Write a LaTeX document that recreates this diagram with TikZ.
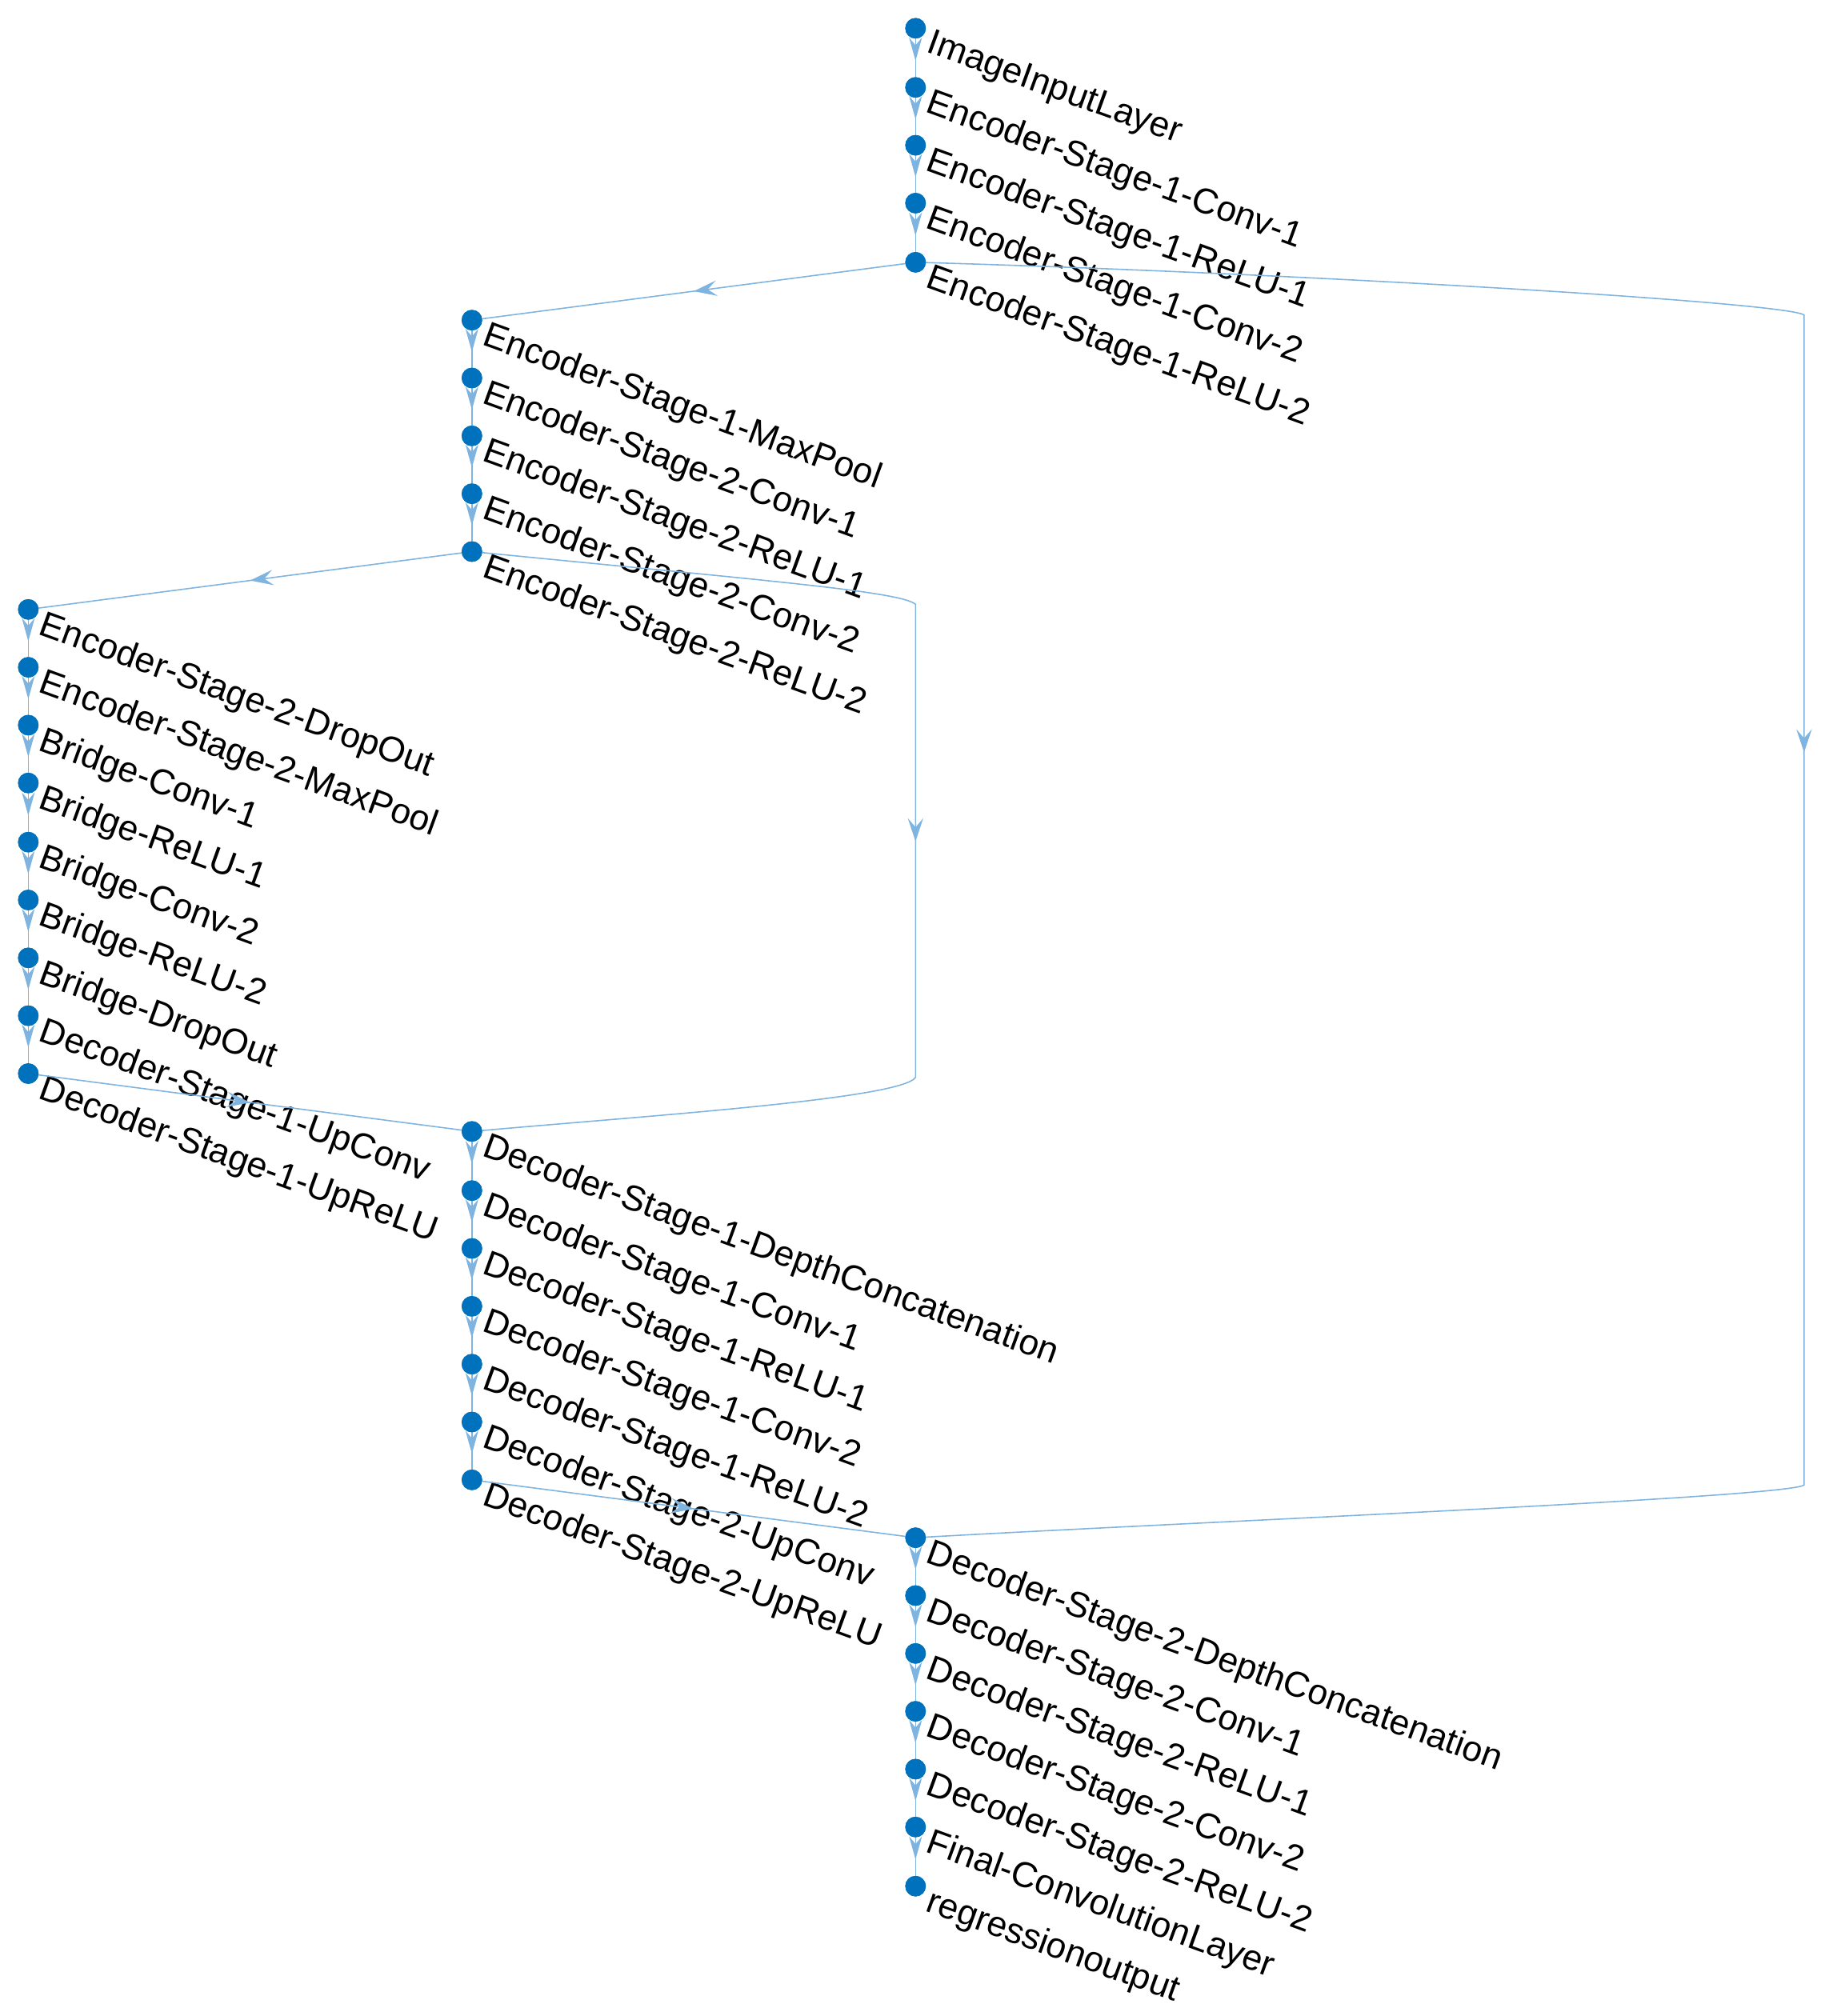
\documentclass[tikz,border=0pt]{standalone}
\usepackage{fontspec}
\setmainfont{Liberation Sans}
\usetikzlibrary{decorations.markings,arrows.meta}
\definecolor{edge}{HTML}{80B4E0}
\definecolor{dot}{HTML}{0072BD}
\begin{document}
\begin{tikzpicture}[x=0.05cm,y=-0.05cm,
  pt/.style={circle,fill=dot,inner sep=0pt,minimum size=0.8cm},
  lab/.style={anchor=north west,rotate=-20,inner sep=0pt,font=\fontsize{39.5}{42}\selectfont},
  e/.style={draw=edge,line width=1.4pt},
  mid/.style={postaction={decorate},decoration={markings,mark=at position #1 with {\arrow[edge,line width=1.3pt]{Stealth[length=0.9cm,width=0.6cm,inset=0.35cm]}}}},
  short/.style={postaction={decorate},decoration={markings,mark=at position 0.55 with {\arrow[edge]{Stealth[length=0.9cm,width=0.5cm]}}}}]
\useasboundingbox (0,0) rectangle (1422,1568);
\foreach \n/\x/\y/\t in {
a1/712/22/ImageInputLayer,a2/712/68/Encoder-Stage-1-Conv-1,a3/712/113/Encoder-Stage-1-ReLU-1,a4/712/158/Encoder-Stage-1-Conv-2,a5/712/204/Encoder-Stage-1-ReLU-2,
b1/367/249/Encoder-Stage-1-MaxPool,b2/367/294/Encoder-Stage-2-Conv-1,b3/367/339/Encoder-Stage-2-ReLU-1,b4/367/384/Encoder-Stage-2-Conv-2,b5/367/429/Encoder-Stage-2-ReLU-2,
c1/22/474/Encoder-Stage-2-DropOut,c2/22/519/Encoder-Stage-2-MaxPool,c3/22/564/Bridge-Conv-1,c4/22/609/Bridge-ReLU-1,c5/22/655/Bridge-Conv-2,c6/22/700/Bridge-ReLU-2,c7/22/745/Bridge-DropOut,c8/22/790/Decoder-Stage-1-UpConv,c9/22/835/Decoder-Stage-1-UpReLU,
d1/367/880/Decoder-Stage-1-DepthConcatenation,d2/367/926/Decoder-Stage-1-Conv-1,d3/367/971/Decoder-Stage-1-ReLU-1,d4/367/1016/Decoder-Stage-1-Conv-2,d5/367/1061/Decoder-Stage-1-ReLU-2,d6/367/1106/Decoder-Stage-2-UpConv,d7/367/1151/Decoder-Stage-2-UpReLU,
e1/712/1196/Decoder-Stage-2-DepthConcatenation,e2/712/1241/Decoder-Stage-2-Conv-1,e3/712/1286/Decoder-Stage-2-ReLU-1,e4/712/1331/Decoder-Stage-2-Conv-2,e5/712/1376/Decoder-Stage-2-ReLU-2,e6/712/1421/Final-ConvolutionLayer,e7/712/1467/regressionoutput}
{ \node[pt] (\n) at (\x,\y) {};
  \node[lab] (\n-l) at (\x+14,\y+0) {\t}; }
\foreach \p/\q in {a1/a2,a2/a3,a3/a4,a4/a5,b1/b2,b2/b3,b3/b4,b4/b5,c1/c2,c2/c3,c3/c4,c4/c5,c5/c6,c6/c7,c7/c8,c8/c9,d1/d2,d2/d3,d3/d4,d4/d5,d5/d6,d6/d7,e1/e2,e2/e3,e3/e4,e4/e5,e5/e6,e6/e7}
  \draw[e,short] (\p.center) -- (\q.center);
\draw[e,mid=0.5] (a5.center) -- (b1.center);
\draw[e,mid=0.5] (b5.center) -- (c1.center);
\draw[e,mid=0.5] (c9.center) -- (d1.center);
\draw[e,mid=0.5] (d7.center) -- (e1.center);
\coordinate (r1) at (1403,245); \coordinate (r2) at (1403,1155);
\coordinate (m1) at (712,470); \coordinate (m2) at (712,838);
\draw[e,mid=0.45] (a5.center) .. controls (1000,212) and (1390,235) .. (r1) -- (r2) .. controls (1390,1165) and (900,1185) .. (e1.center);
\draw[e,mid=0.5] (b5.center) .. controls (600,452) and (700,460) .. (m1) -- (m2) .. controls (700,855) and (500,868) .. (d1.center);
\foreach \n in {a1,a2,a3,a4,a5,b1,b2,b3,b4,b5,c1,c2,c3,c4,c5,c6,c7,c8,c9,d1,d2,d3,d4,d5,d6,d7,e1,e2,e3,e4,e5,e6,e7}
  \fill[dot] (\n) circle (0.4cm);
\end{tikzpicture}
\end{document}
